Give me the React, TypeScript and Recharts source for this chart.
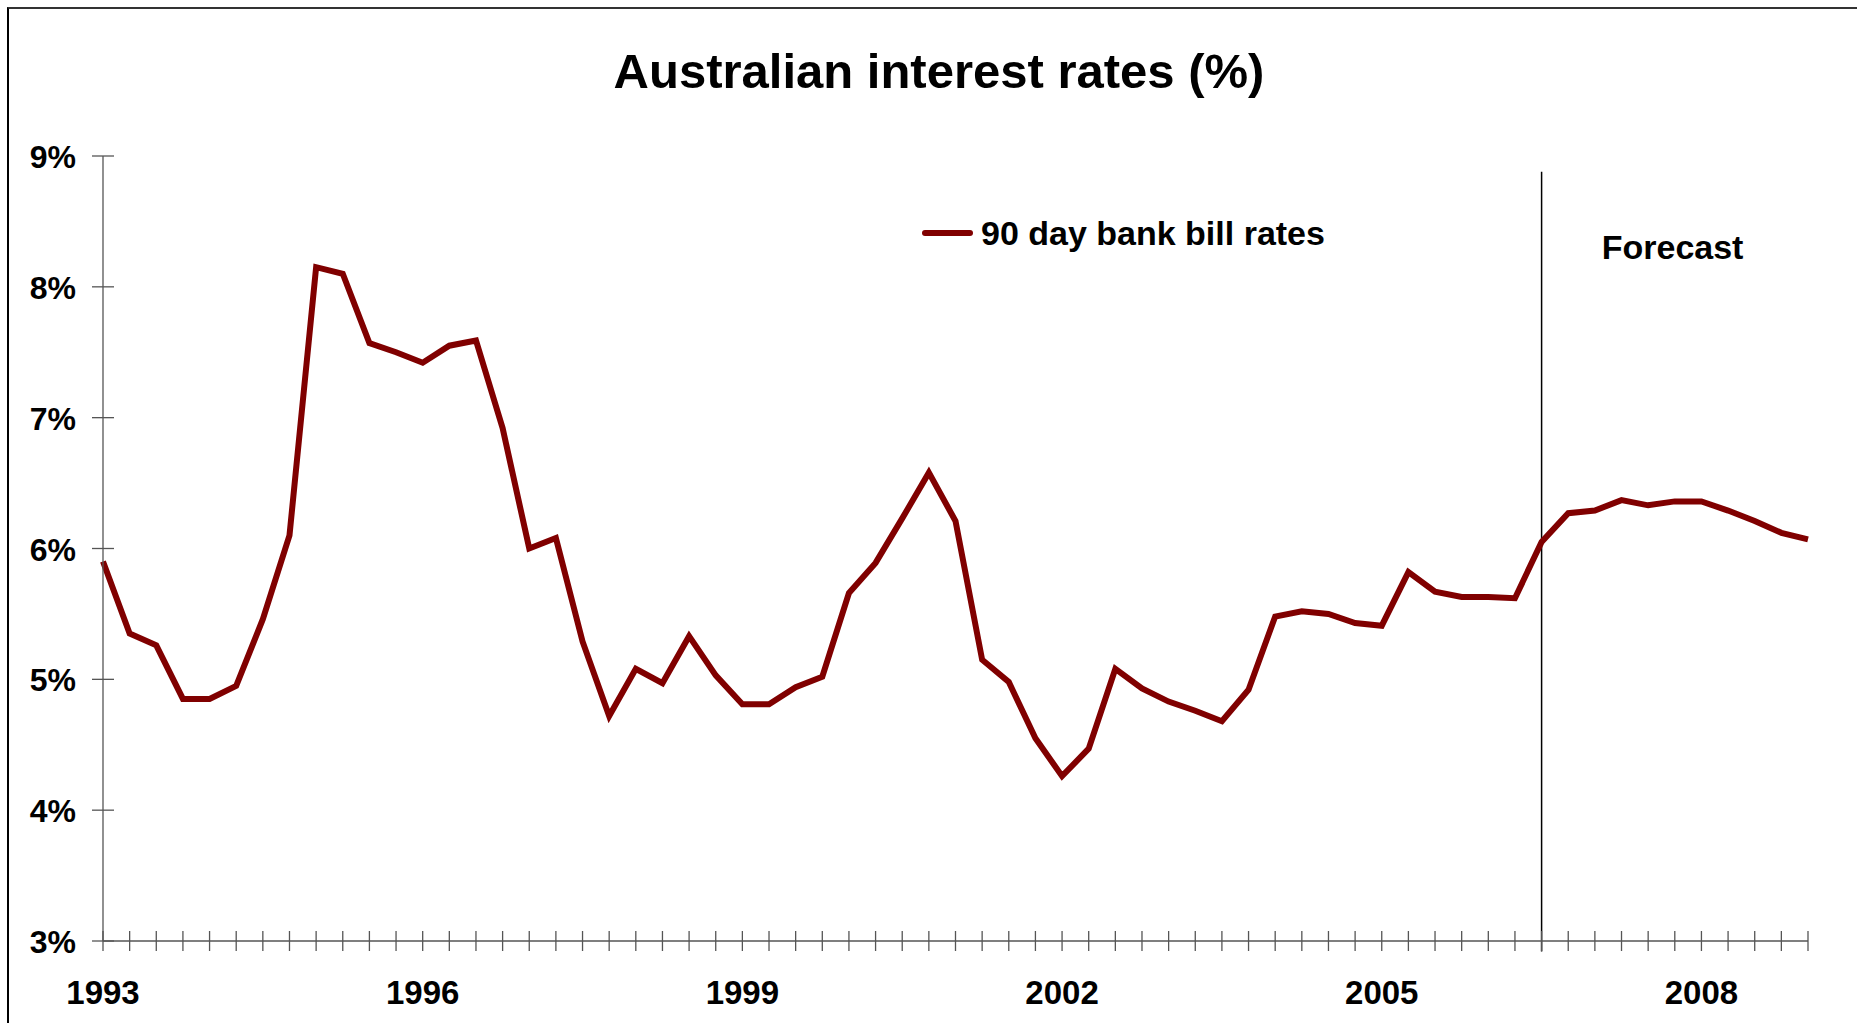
import React from 'react';
import { LineChart, Line, XAxis, YAxis, ReferenceLine, Legend } from 'recharts';

// quarterly 90 day bank bill rates, Mar-93 .. Mar-09 (forecast from Sep-06)
const quarters = [
  'Mar-93', 'Jun-93', 'Sep-93', 'Dec-93',
  'Mar-94', 'Jun-94', 'Sep-94', 'Dec-94',
  'Mar-95', 'Jun-95', 'Sep-95', 'Dec-95',
  'Mar-96', 'Jun-96', 'Sep-96', 'Dec-96',
  'Mar-97', 'Jun-97', 'Sep-97', 'Dec-97',
  'Mar-98', 'Jun-98', 'Sep-98', 'Dec-98',
  'Mar-99', 'Jun-99', 'Sep-99', 'Dec-99',
  'Mar-00', 'Jun-00', 'Sep-00', 'Dec-00',
  'Mar-01', 'Jun-01', 'Sep-01', 'Dec-01',
  'Mar-02', 'Jun-02', 'Sep-02', 'Dec-02',
  'Mar-03', 'Jun-03', 'Sep-03', 'Dec-03',
  'Mar-04', 'Jun-04', 'Sep-04', 'Dec-04',
  'Mar-05', 'Jun-05', 'Sep-05', 'Dec-05',
  'Mar-06', 'Jun-06', 'Sep-06', 'Dec-06',
  'Mar-07', 'Jun-07', 'Sep-07', 'Dec-07',
  'Mar-08', 'Jun-08', 'Sep-08', 'Dec-08',
  'Mar-09',
];

const billRates = [
  5.90, 5.35, 5.26, 4.85, 4.85, 4.95, 5.46, 6.10,
  8.15, 8.10, 7.57, 7.50, 7.42, 7.55, 7.59, 6.92,
  6.00, 6.08, 5.29, 4.72, 5.08, 4.97, 5.33, 5.03,
  4.81, 4.81, 4.94, 5.02, 5.66, 5.89, 6.23, 6.58,
  6.21, 5.15, 4.98, 4.55, 4.26, 4.47, 5.08, 4.93,
  4.83, 4.76, 4.68, 4.92, 5.48, 5.52, 5.50, 5.43,
  5.41, 5.82, 5.67, 5.63, 5.63, 5.62, 6.05, 6.27,
  6.29, 6.37, 6.33, 6.36, 6.36, 6.29, 6.21, 6.12,
  6.07,
];

const yearTicks: Record<string, string> = {
  'Mar-93': '1993',
  'Mar-96': '1996',
  'Mar-99': '1999',
  'Mar-02': '2002',
  'Mar-05': '2005',
  'Mar-08': '2008',
};

const yTicks = [3, 4, 5, 6, 7, 8, 9];
const forecastStart = 'Sep-06';

const data = quarters.map((q, i) => ({ q, rate: billRates[i] }));

const FONT = '"Liberation Sans", Arial, sans-serif';
const AXIS = '#555';
const RED = '#800000';

const XTick = (props: any) => {
  const { x, y, payload } = props;
  const label = yearTicks[payload.value];
  return (
    <g>
      <line x1={x} x2={x} y1={y - 10} y2={y + 10} stroke={AXIS} strokeWidth={1.3} />
      {label && (
        <text x={x} y={y + 63} textAnchor="middle" fontFamily={FONT} fontWeight="bold" fontSize={33} fill="#000">
          {label}
        </text>
      )}
    </g>
  );
};

const YTick = (props: any) => {
  const { x, y, payload } = props;
  return (
    <g>
      <line x1={x - 11} x2={x + 11} y1={y} y2={y} stroke={AXIS} strokeWidth={1.3} />
      <text x={x - 27} y={y + 12} textAnchor="end" fontFamily={FONT} fontWeight="bold" fontSize={32} fill="#000">
        {payload.value}%
      </text>
    </g>
  );
};

const LegendContent = () => (
  <div style={{ display: 'flex', alignItems: 'center', fontFamily: FONT, fontWeight: 'bold', fontSize: 34, lineHeight: '40px', color: '#000', whiteSpace: 'nowrap' }}>
    <span style={{ display: 'inline-block', width: 51, height: 6, background: RED, borderRadius: 3 }} />
    <span style={{ marginLeft: 8 }}>90 day bank bill rates</span>
  </div>
);

const ForecastLabel = (props: any) => {
  const { viewBox } = props;
  return (
    <text x={viewBox.x + 131} y={259} textAnchor="middle" fontFamily={FONT} fontWeight="bold" fontSize={34} fill="#000">
      Forecast
    </text>
  );
};

export default function App() {
  return (
    <div>
      <div
        style={{
          position: 'absolute', left: 7, top: 7, width: 1850, height: 1016,
          borderTop: '2px solid #333', borderLeft: '2px solid #000', boxSizing: 'border-box',
        }}
      />
      <div
        style={{
          position: 'absolute', left: 439, top: 47, width: 1000, textAlign: 'center',
          fontFamily: FONT, fontWeight: 'bold', fontSize: 49, lineHeight: '49px', color: '#000',
        }}
      >
        Australian interest rates (%)
      </div>
      <div style={{ position: 'absolute', left: 0, top: 0 }}>
        <LineChart width={1857} height={1023} data={data} margin={{ top: 156, right: 49, bottom: 0, left: 0 }}>
          <XAxis
            dataKey="q"
            interval={0}
            height={82}
            tickLine={false}
            tickSize={0}
            tickMargin={0}
            tick={<XTick />}
            axisLine={{ stroke: AXIS, strokeWidth: 1.3 }}
          />
          <YAxis
            domain={[3, 9]}
            ticks={yTicks}
            width={103}
            tickLine={false}
            tickSize={0}
            tickMargin={0}
            tick={<YTick />}
            axisLine={{ stroke: AXIS, strokeWidth: 1.3 }}
          />
          <ReferenceLine
            segment={[{ x: forecastStart, y: 8.88 }, { x: forecastStart, y: 2.92 }]}
            stroke="#000"
            strokeWidth={1.5}
            ifOverflow="visible"
            label={<ForecastLabel />}
          />
          <Legend
            layout="horizontal"
            verticalAlign="middle"
            align="center"
            content={<LegendContent />}
            wrapperStyle={{ position: 'absolute', left: 922, top: 213, width: 'auto', height: 'auto' }}
          />
          <Line
            type="linear"
            dataKey="rate"
            name="90 day bank bill rates"
            stroke={RED}
            strokeWidth={6}
            dot={false}
            isAnimationActive={false}
          />
        </LineChart>
      </div>
    </div>
  );
}
